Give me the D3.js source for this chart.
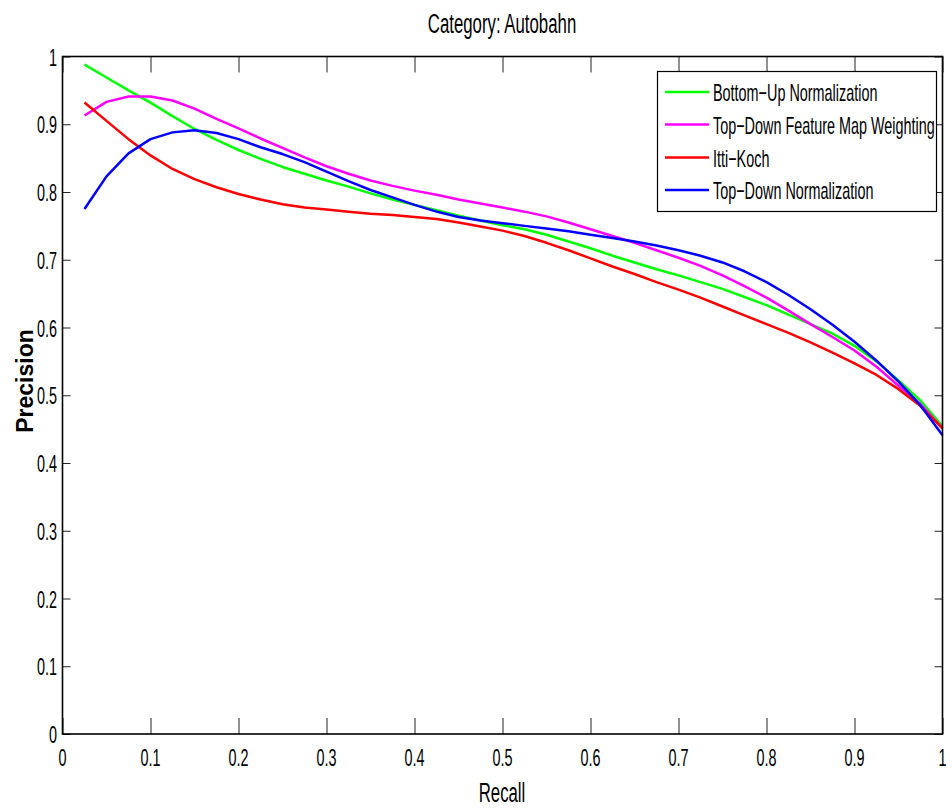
<!DOCTYPE html>
<html><head><meta charset="utf-8">
<script src="https://cdn.jsdelivr.net/npm/d3@7"></script>
<style>body{margin:0;background:#fff}svg{display:block}text{font-family:"Liberation Sans",Arial,sans-serif;fill:#000}</style>
</head><body><svg id="c" width="952" height="812"></svg>
<script>
const title = "Category: Autobahn";
const xLabel = "Recall";
const yLabel = "Precision";
const seriesNames = ["Bottom\u2212Up Normalization","Top\u2212Down Feature Map Weighting","Itti\u2212Koch","Top\u2212Down Normalization"];
const seriesColors = ["#00ff00","#ff00ff","#ff0000","#0000ff"];
const xTicks = [0,0.1,0.2,0.3,0.4,0.5,0.6,0.7,0.8,0.9,1];
const yTicks = [0,0.1,0.2,0.3,0.4,0.5,0.6,0.7,0.8,0.9,1];
const xTickLabels = ["0","0.1","0.2","0.3","0.4","0.5","0.6","0.7","0.8","0.9","1"];
const yTickLabels = ["0","0.1","0.2","0.3","0.4","0.5","0.6","0.7","0.8","0.9","1"];
const recall = [0.025,0.05,0.075,0.1,0.125,0.15,0.175,0.2,0.225,0.25,0.275,0.3,0.325,0.35,0.375,0.4,0.425,0.45,0.475,0.5,
  0.525,0.55,0.575,0.6,0.625,0.65,0.675,0.7,0.725,0.75,0.775,0.8,0.825,0.85,0.875,0.9,0.925,0.95,0.975,1.0];
const bottomUp = [0.988,0.969,0.950,0.932,0.912,0.893,0.877,0.862,0.849,0.837,0.827,0.817,0.808,0.798,0.789,0.781,0.773,0.765,0.758,0.751,
  0.745,0.737,0.727,0.717,0.706,0.696,0.686,0.677,0.667,0.657,0.645,0.633,0.619,0.605,0.591,0.573,0.550,0.522,0.492,0.454];
const topDownFMW = [0.913,0.933,0.941,0.941,0.935,0.923,0.908,0.894,0.879,0.865,0.851,0.838,0.827,0.817,0.809,0.802,0.796,0.789,0.783,0.777,
  0.771,0.764,0.755,0.745,0.735,0.725,0.714,0.703,0.691,0.677,0.661,0.644,0.625,0.605,0.586,0.566,0.542,0.514,0.487,0.451];
const ittiKoch = [0.932,0.905,0.878,0.854,0.834,0.819,0.807,0.797,0.789,0.782,0.777,0.774,0.771,0.768,0.766,0.763,0.760,0.755,0.749,0.743,
  0.735,0.725,0.714,0.702,0.690,0.679,0.667,0.656,0.644,0.631,0.618,0.605,0.592,0.578,0.563,0.547,0.530,0.509,0.484,0.451];
const topDownNorm = [0.775,0.823,0.857,0.878,0.888,0.891,0.887,0.878,0.866,0.856,0.844,0.830,0.816,0.803,0.792,0.781,0.771,0.763,0.758,0.754,
  0.750,0.746,0.742,0.737,0.732,0.727,0.721,0.714,0.706,0.696,0.683,0.667,0.648,0.627,0.604,0.579,0.551,0.520,0.485,0.441];
const seriesValues = [bottomUp, topDownFMW, ittiKoch, topDownNorm];

const L=62.5, R=942.5, T=56.5, B=734;
const SX = 0.6;
const svg = d3.select("#c");
const x = d3.scaleLinear().domain([0,1]).range([L,R]);
const y = d3.scaleLinear().domain([0,1]).range([B,T]);

function ctext(g, tx, ty, str, size, anchor){
  return g.append("text").attr("transform",`translate(${tx},${ty}) scale(${SX},1)`)
    .attr("font-size",size).attr("text-anchor",anchor||"middle").text(str);
}

// axes ticks (inward)
const gxB = svg.append("g").attr("transform",`translate(0,${B})`)
  .call(d3.axisBottom(x).tickValues(xTicks).tickSize(-16).tickFormat(""));
const gxT = svg.append("g").attr("transform",`translate(0,${T})`)
  .call(d3.axisTop(x).tickValues(xTicks).tickSize(-16).tickFormat(""));
const gyL = svg.append("g").attr("transform",`translate(${L},0)`)
  .call(d3.axisLeft(y).tickValues(yTicks).tickSize(-8).tickFormat(""));
const gyR = svg.append("g").attr("transform",`translate(${R},0)`)
  .call(d3.axisRight(y).tickValues(yTicks).tickSize(-8).tickFormat(""));
[gxB,gxT,gyL,gyR].forEach(g=>{ g.select(".domain").remove(); g.selectAll(".tick line").attr("stroke","#222").attr("stroke-width",1); });

// tick labels
xTicks.forEach((v,i)=> ctext(svg, x(v), 766, xTickLabels[i], 24, "middle"));
yTicks.forEach((v,i)=> ctext(svg, 57, y(v)+9, yTickLabels[i], 24, "end"));

// lines
const line = d3.line().x(d=>x(d[0])).y(d=>y(d[1]));
seriesValues.forEach((vals,i)=>{
  svg.append("path").datum(recall.map((r,j)=>[r,vals[j]]))
    .attr("d",line).attr("fill","none").attr("stroke",seriesColors[i])
    .attr("stroke-width",2.5).attr("stroke-linejoin","round");
});

// frame
svg.append("rect").attr("x",L).attr("y",T).attr("width",R-L).attr("height",B-T)
  .attr("fill","none").attr("stroke","#000").attr("stroke-width",1.6);

// legend
const lg = svg.append("g");
lg.append("rect").attr("x",657.5).attr("y",71.5).attr("width",279).attr("height",140)
  .attr("fill","#fff").attr("stroke","#000").attr("stroke-width",1.2);
const legY = [92,124.5,157.5,190];
seriesNames.forEach((n,i)=>{
  lg.append("line").attr("x1",665).attr("x2",709).attr("y1",legY[i]).attr("y2",legY[i])
    .attr("stroke",seriesColors[i]).attr("stroke-width",2.5);
  ctext(lg, 713, legY[i]+9, n, 24, "start");
});

// titles
ctext(svg, 502, 33, title, 28, "middle");
ctext(svg, 502, 802, xLabel, 28, "middle");
svg.append("text").attr("transform",`translate(33,381) rotate(-90)`)
  .attr("font-size",23).attr("text-anchor","middle").attr("font-weight","bold").text(yLabel);
</script></body></html>
